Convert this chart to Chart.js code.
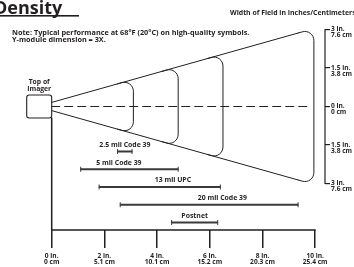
<!DOCTYPE html>
<html>
<head>
<meta charset="utf-8">
<script src="https://cdn.jsdelivr.net/npm/chart.js@4.4.0/dist/chart.umd.min.js"></script>
<style>
  html, body { margin: 0; padding: 0; background: #fff; }
</style>
</head>
<body>
<canvas id="density" width="354" height="267"></canvas>
<script>
// reading range for each symbol, inches from the imager
let symbols = ["2.5 mil Code 39", "5 mil Code 39", "13 mil UPC", "20 mil Code 39", "Postnet"];
let rangeStart = [2.5, 1.1, 1.8, 2.6, 4.55];
let rangeEnd = [3.05, 4.8, 6.4, 9.35, 6.3];

// field of view outline: curved ends at these depths, half width grows linearly
let fieldDepth = [3.1, 4.8, 6.5, 9.95];
let fieldHalfNear = 0.16;
let fieldHalfFar = 3.05;
let fieldFarDepth = 10;

// axis ticks
let distTicks = [0, 2, 4, 6, 8, 10];
let distLabels = [["0 in.", "0 cm"], ["2 in.", "5.1 cm"], ["4 in.", "10.1 cm"], ["6 in.", "15.2 cm"], ["8 in.", "20.3 cm"], ["10 in.", "25.4 cm"]];
let widthTicks = [3, 1.5, 0, -1.5, -3];
let widthLabels = [["3 in.", "7.6 cm"], ["1.5 in.", "3.8 cm"], ["0 in.", "0 cm"], ["1.5 in.", "3.8 cm"], ["3 in.", "7.6 cm"]];

const ink = "#231f20";
const face = "'Open Sans', sans-serif";
const labelShift = [0, -0.4, 0.5, 0.5, 0];   // nudges for the symbol names, inches

function halfWidth(d) {
    return fieldHalfNear + (fieldHalfFar - fieldHalfNear) * d / fieldFarDepth;
}

const diagram = {
    id: "diagram",
    beforeDatasetsDraw(chart) {
        const ctx = chart.ctx;
        const X = chart.scales.x, F = chart.scales.field;
        const px = v => X.getPixelForValue(v);
        const py = v => F.getPixelForValue(v);
        const area = chart.chartArea;
        ctx.save();
        ctx.strokeStyle = ink;
        ctx.lineCap = "round";

        // imager box and the 0 in. line under it
        const bx = px(0), by = py(0);
        ctx.lineWidth = 1.1;
        ctx.beginPath();
        ctx.roundRect(bx - 25, by - 11.5, 25, 23, 2.5);
        ctx.stroke();
        ctx.lineWidth = 1.5;
        ctx.beginPath();
        ctx.moveTo(bx, by + 11.5);
        ctx.lineTo(bx, area.bottom);
        ctx.stroke();

        // distance axis line
        ctx.beginPath();
        ctx.moveTo(px(distTicks[0]), area.bottom);
        ctx.lineTo(px(distTicks[distTicks.length - 1]), area.bottom);
        ctx.stroke();

        // centre line
        const outer = fieldDepth[fieldDepth.length - 1];
        ctx.lineWidth = 1.1;
        ctx.setLineDash([8, 5]);
        ctx.beginPath();
        ctx.moveTo(px(0), by);
        ctx.lineTo(px(outer) - 4, by);
        ctx.stroke();
        ctx.setLineDash([]);

        // cone edges
        ctx.lineWidth = 1;
        const back = 0.6, r = 9;
        ctx.beginPath();
        ctx.moveTo(px(0), py(halfWidth(0)));
        ctx.lineTo(px(outer - back), py(halfWidth(outer - back)));
        ctx.moveTo(px(0), py(-halfWidth(0)));
        ctx.lineTo(px(outer - back), py(-halfWidth(outer - back)));
        ctx.stroke();

        // curved ends
        fieldDepth.forEach(d => {
            const h = halfWidth(d), hb = halfWidth(d - back);
            ctx.beginPath();
            ctx.moveTo(px(d - back), py(hb));
            ctx.arcTo(px(d), py(h), px(d), py(-h), r);
            ctx.arcTo(px(d), py(-h), px(d - back), py(-hb), r);
            ctx.lineTo(px(d - back), py(-hb));
            ctx.stroke();
        });

        // width bracket
        ctx.lineWidth = 1.2;
        ctx.beginPath();
        ctx.moveTo(area.right, py(widthTicks[0]));
        ctx.lineTo(area.right, py(widthTicks[widthTicks.length - 1]));
        ctx.stroke();
        ctx.restore();
    },
    afterDraw(chart) {
        const ctx = chart.ctx;
        const X = chart.scales.x, R = chart.scales.yRow, F = chart.scales.field;
        ctx.save();
        ctx.fillStyle = ink;

        // heading
        ctx.font = "bold 18px " + face;
        ctx.textBaseline = "alphabetic";
        ctx.fillText("Density", -6, 13.5);
        ctx.fillRect(0, 15, 79, 1.6);

        ctx.font = "bold 7.3px " + face;
        ctx.textBaseline = "middle";
        ctx.fillText("Note: Typical performance at 68°F (20°C) on high-quality symbols.", 12, 33);
        ctx.fillText("Y-module dimension = 3X.", 12, 40);
        ctx.font = "bold 6.9px " + face;
        ctx.fillText("Width of Field in Inches/Centimeters", 230, 12.7);

        ctx.textAlign = "center";
        ctx.font = "bold 6.8px " + face;
        const bx = X.getPixelForValue(0) - 12.5, by = F.getPixelForValue(0);
        ctx.fillText("Top of", bx, by - 24);
        ctx.fillText("Imager", bx, by - 17.5);

        // symbol names over the bars
        ctx.font = "bold 6.9px " + face;
        symbols.forEach((s, i) => {
            const mid = (rangeStart[i] + rangeEnd[i]) / 2 + labelShift[i];
            ctx.fillText(s, X.getPixelForValue(mid), R.getPixelForValue(i) - 6.5);
        });
        ctx.restore();
    }
};

const tickFont = { family: face, size: 6.6, weight: "bold", lineHeight: 0.92 };

new Chart("density", {
    type: "bar",
    data: {
        datasets: [{
            type: "bar",
            xAxisID: "x",
            yAxisID: "yRow",
            data: symbols.map((s, i) => ({ x: [rangeStart[i], rangeEnd[i]], y: i })),
            backgroundColor: "#3a3a3a",
            barThickness: 1.5
        }, {
            type: "line",
            xAxisID: "x",
            yAxisID: "yRow",
            showLine: false,
            data: symbols.flatMap((s, i) => [{ x: rangeStart[i], y: i }, { x: rangeEnd[i], y: i }]),
            pointStyle: "line",
            rotation: 90,
            pointRadius: 2.5,
            borderColor: "#3a3a3a",
            borderWidth: 1
        }]
    },
    options: {
        indexAxis: "y",
        responsive: false,
        animation: false,
        devicePixelRatio: 1,
        layout: { padding: { left: 51.7, top: 24, right: 0, bottom: 0 } },
        plugins: { legend: { display: false }, tooltip: { enabled: false } },
        scales: {
            x: {
                type: "linear",
                offset: false,
                min: 0,
                max: 10.372,
                afterBuildTicks: s => { s.ticks = distTicks.map(v => ({ value: v })); },
                afterFit: s => { s.height = 37; },
                border: { display: false },
                grid: { offset: false, drawOnChartArea: false, tickLength: 18, color: ink, lineWidth: 1.5 },
                ticks: { padding: 5, color: ink, font: tickFont, maxRotation: 0, callback: (v, i) => distLabels[i] }
            },
            yRow: {
                type: "linear",
                axis: "y",
                offset: false,
                grid: { offset: false },
                reverse: true,
                min: -7.183,
                max: 4.423,
                display: false
            },
            field: {
                type: "linear",
                axis: "y",
                position: "right",
                offset: false,
                min: -4.811,
                max: 3.214,
                afterBuildTicks: s => { s.ticks = widthTicks.map(v => ({ value: v })); },
                afterFit: s => { s.width = 29; },
                border: { display: false },
                grid: { offset: false, drawOnChartArea: false, tickLength: 5, color: ink, lineWidth: 1.2 },
                ticks: { padding: 1, color: ink, font: tickFont, labelOffset: 3, callback: (v, i) => widthLabels[i] }
            }
        }
    },
    plugins: [diagram]
});
</script>
</body>
</html>
